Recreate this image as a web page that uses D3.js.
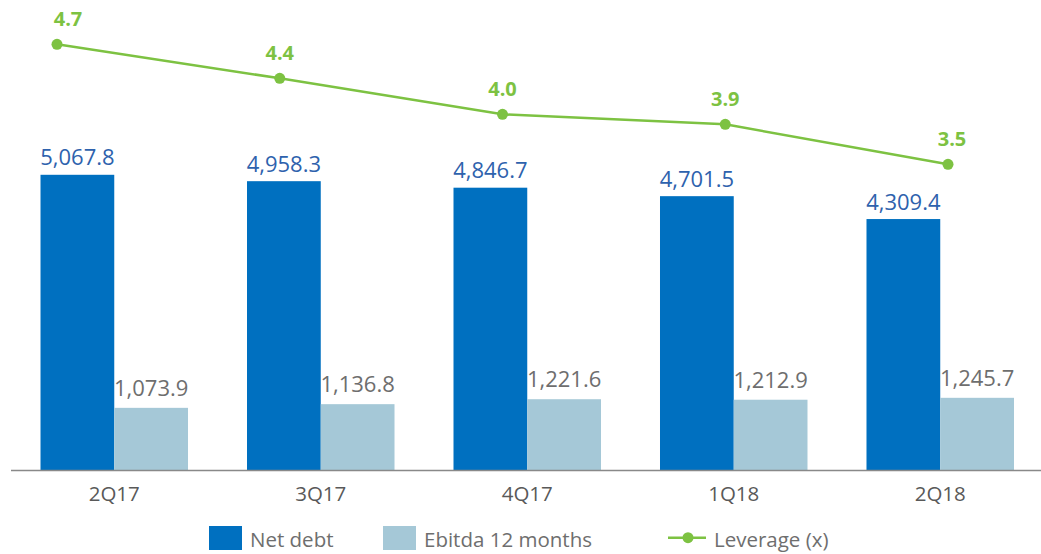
<!DOCTYPE html>
<html>
<head>
<meta charset="utf-8">
<script src="https://cdn.jsdelivr.net/npm/d3@7"></script>
<style>
  html, body { margin: 0; padding: 0; background: #fff; }
  svg { display: block; font-family: "Open Sans", sans-serif; }
</style>
</head>
<body>
<svg id="chart"></svg>
<script>
// chart data
const quarters = ['2Q17', '3Q17', '4Q17', '1Q18', '2Q18'];
const netDebt = [5067.8, 4958.3, 4846.7, 4701.5, 4309.4];
const ebitda12m = [1073.9, 1136.8, 1221.6, 1212.9, 1245.7];
const leverage = [4.7, 4.36, 4.0, 3.9, 3.5];
const seriesNames = ['Net debt', 'Ebitda 12 months', 'Leverage (x)'];

const width = 1041, height = 554;
const baseY = 470.5;

const colors = { debt: '#0070c0', ebitda: '#a5c8d7', lev: '#7dc242' };

const svg = d3.select('#chart')
  .attr('width', width)
  .attr('height', height);

// Scales
const x = d3.scaleBand()
  .domain(quarters)
  .range([11, 1043.5])
  .paddingInner(0.2857)
  .paddingOuter(0.1429);

const xSub = d3.scaleBand()
  .domain(['debt', 'ebitda'])
  .range([0, x.bandwidth()]);

const y = d3.scaleLinear()
  .domain([0, 8000])
  .range([baseY, baseY - 8000 * 0.05835]);

// line sits on its own secondary scale
const xLine = d3.scalePoint()
  .domain(quarters)
  .range([57, 948]);

const yLine = d3.scaleLinear()
  .domain([3.5, 4.7])
  .range([164.3, 44.3]);

const fmt = d3.format(',.1f');

// Bars
const groups = svg.append('g')
  .selectAll('g')
  .data(quarters)
  .join('g')
  .attr('transform', d => `translate(${x(d)},0)`);

groups.append('rect')
  .attr('x', xSub('debt'))
  .attr('y', (d, i) => y(netDebt[i]))
  .attr('width', xSub.bandwidth())
  .attr('height', (d, i) => baseY - y(netDebt[i]))
  .attr('fill', colors.debt);

groups.append('rect')
  .attr('x', xSub('ebitda'))
  .attr('y', (d, i) => y(ebitda12m[i]))
  .attr('width', xSub.bandwidth())
  .attr('height', (d, i) => baseY - y(ebitda12m[i]))
  .attr('fill', colors.ebitda);

// Bar labels
groups.append('text')
  .attr('x', xSub('debt') + xSub.bandwidth() / 2)
  .attr('y', (d, i) => y(netDebt[i]) - 9.5)
  .attr('text-anchor', 'middle')
  .attr('font-size', 22)
  .attr('fill', '#2e62ad')
  .text((d, i) => fmt(netDebt[i]));

groups.append('text')
  .attr('x', xSub('ebitda') + xSub.bandwidth() / 2)
  .attr('y', (d, i) => y(ebitda12m[i]) - 12)
  .attr('text-anchor', 'middle')
  .attr('font-size', 22)
  .attr('fill', '#6e6e6e')
  .text((d, i) => fmt(ebitda12m[i]));

// Axis
const xAxis = svg.append('g')
  .attr('transform', `translate(0,${baseY})`)
  .call(d3.axisBottom(x).tickSize(0).tickPadding(0).tickSizeOuter(0));

xAxis.select('.domain')
  .attr('d', `M11,0H${width}`)
  .attr('stroke', '#898989')
  .attr('stroke-width', 1.5);

xAxis.selectAll('text')
  .attr('dy', 0)
  .attr('y', 30)
  .attr('font-family', '"Open Sans", sans-serif')
  .attr('font-size', 20.5)
  .attr('fill', '#595959');

// Leverage line
svg.append('path')
  .datum(leverage)
  .attr('fill', 'none')
  .attr('stroke', colors.lev)
  .attr('stroke-width', 2.5)
  .attr('d', d3.line()
    .x((d, i) => xLine(quarters[i]))
    .y(d => yLine(d)));

svg.append('g')
  .selectAll('circle')
  .data(leverage)
  .join('circle')
  .attr('cx', (d, i) => xLine(quarters[i]))
  .attr('cy', d => yLine(d))
  .attr('r', 5.5)
  .attr('fill', colors.lev);

svg.append('g')
  .selectAll('text')
  .data(leverage)
  .join('text')
  .attr('x', (d, i) => xLine(quarters[i]) + (i === 0 ? 11 : i === 4 ? 4 : 0))
  .attr('y', d => yLine(d) - 18)
  .attr('text-anchor', 'middle')
  .attr('font-size', 20)
  .attr('font-weight', 'bold')
  .attr('fill', colors.lev)
  .text(d => d3.format('.1f')(d));

// Legend
const legend = svg.append('g').attr('font-size', 20.5).attr('fill', '#6e6e6e');
const legendX = [209, 383, 668];

[colors.debt, colors.ebitda].forEach((c, i) => {
  legend.append('rect')
    .attr('x', legendX[i]).attr('y', 526)
    .attr('width', 33).attr('height', 24)
    .attr('fill', c);
  legend.append('text')
    .attr('x', legendX[i] + 41).attr('y', 546.5)
    .text(seriesNames[i]);
});

legend.append('line')
  .attr('x1', legendX[2]).attr('x2', legendX[2] + 38)
  .attr('y1', 537.7).attr('y2', 537.7)
  .attr('stroke', colors.lev).attr('stroke-width', 2.5);
legend.append('circle')
  .attr('cx', legendX[2] + 20).attr('cy', 537.7).attr('r', 5.5)
  .attr('fill', colors.lev);
legend.append('text')
  .attr('x', 714).attr('y', 546.5)
  .text(seriesNames[2]);
</script>
</body>
</html>
